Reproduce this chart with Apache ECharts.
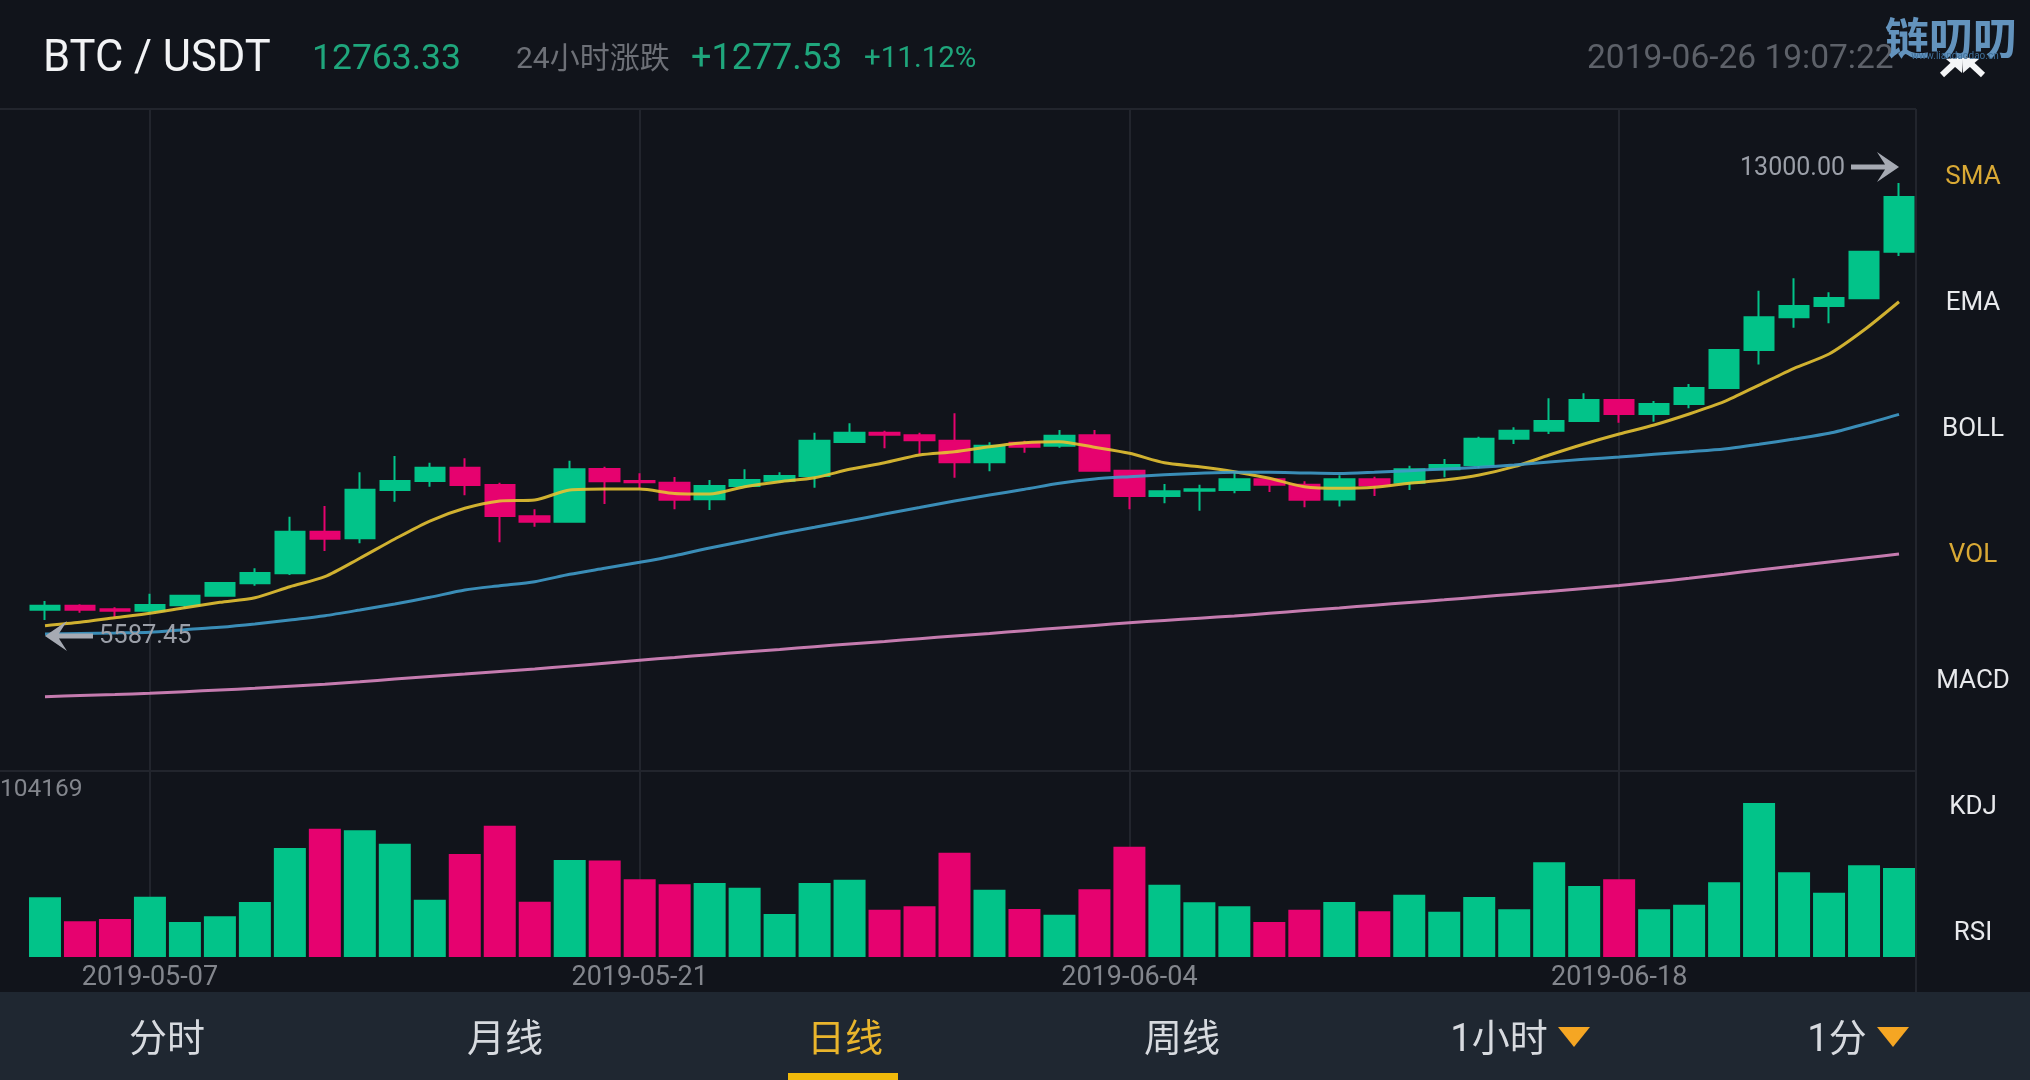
<!DOCTYPE html>
<html><head><meta charset="utf-8">
<style>html,body{margin:0;padding:0;background:#11141b}#c{width:2030px;height:1080px}</style>
<script src="https://cdn.jsdelivr.net/npm/echarts@6/dist/echarts.min.js"></script>
</head><body><div id="c"></div>
<script>
const dates = ['2019-05-04','2019-05-05','2019-05-06','2019-05-07','2019-05-08','2019-05-09','2019-05-10','2019-05-11','2019-05-12','2019-05-13','2019-05-14','2019-05-15','2019-05-16','2019-05-17','2019-05-18','2019-05-19','2019-05-20','2019-05-21','2019-05-22','2019-05-23','2019-05-24','2019-05-25','2019-05-26','2019-05-27','2019-05-28','2019-05-29','2019-05-30','2019-05-31','2019-06-01','2019-06-02','2019-06-03','2019-06-04','2019-06-05','2019-06-06','2019-06-07','2019-06-08','2019-06-09','2019-06-10','2019-06-11','2019-06-12','2019-06-13','2019-06-14','2019-06-15','2019-06-16','2019-06-17','2019-06-18','2019-06-19','2019-06-20','2019-06-21','2019-06-22','2019-06-23','2019-06-24','2019-06-25','2019-06-26'];
const tickDates = ['2019-05-07','2019-05-21','2019-06-04','2019-06-18'];
const opens = [5762,5830,5769,5745,5836,5999,6210,6379,7085,6973,7792,7945,8171,7877,7346,7255,8148,7945,7916,7635,7860,7950,8030,8607,8764,8720,8629,8262,8595,8544,8720,8120,7691,7780,7792,7974,7882,7631,7974,7916,8143,8216,8663,8798,8963,9319,9081,9251,9523,10167,10722,10914,11044,11835];
const closes = [5830,5762,5745,5842,5999,6215,6384,7085,6966,7797,7945,8171,7877,7351,7255,8143,7940,7923,7628,7860,7962,8030,8629,8764,8730,8635,8262,8544,8527,8713,8120,7691,7770,7804,7974,7882,7628,7974,7872,8143,8216,8663,8798,8963,9319,9081,9251,9523,10167,10722,10914,11049,11835,12763.33];
const lows = [5587.45,5711,5633,5701,5786,5982,6169,6350,6758,6888,7594,7848,7702,6905,7170,7255,7555,7821,7465,7453,7826,7916,7831,8595,8500,8403,8001,8110,8425,8510,8103,7465,7567,7441,7736,7758,7499,7512,7691,7792,8008,8160,8573,8742,8951,8934,8951,9178,9523,9923,10545,10620,11044,11762];
const highs = [5909,5853,5803,6033,6011,6227,6464,7339,7521,8093,8369,8255,8330,7916,7465,8289,8188,8076,8013,7962,8143,8093,8764,8924,8798,8764,9093,8601,8629,8810,8810,8132,7894,7882,8086,7984,7940,8042,8018,8205,8318,8696,8856,9348,9433,9331,9302,9590,10179,11173,11383,11146,11835,13000];
const volumes = [40360,24125,25703,40810,23674,27507,37202,73728,86805,85678,76657,38780,69669,88833,37427,65611,65300,52534,49152,50054,46897,29085,50000,52308,32014,34268,70570,45545,32467,28634,45770,74629,48927,36977,34268,23674,32014,37202,30888,42161,30663,40584,32240,64033,48024,52534,32240,35398,50505,104169,57268,43515,62004,60200];
const lineYellow = [5490,5548,5626,5701,5796,5887,5965,6152,6322,6634,6961,7266,7482,7606,7623,7792,7809,7809,7733,7724,7848,7933,8001,8143,8255,8386,8442,8527,8595,8612,8517,8415,8255,8188,8103,7991,7848,7821,7838,7906,7962,8047,8188,8386,8573,8742,8895,9081,9290,9573,9857,10099,10506,10986];
const lineBlue = [5350,5358,5367,5379,5423,5463,5519,5587,5660,5757,5859,5972,6096,6169,6237,6362,6464,6566,6678,6809,6927,7050,7160,7270,7385,7495,7606,7708,7804,7906,7979,8018,8052,8076,8093,8093,8081,8072,8093,8120,8149,8177,8215,8267,8313,8352,8398,8442,8488,8568,8657,8754,8907,9076];
const linePink = [4286,4305,4323,4344,4371,4400,4429,4463,4496,4539,4586,4629,4671,4714,4756,4805,4855,4905,4952,4999,5044,5088,5134,5180,5224,5270,5316,5360,5406,5451,5496,5541,5580,5618,5655,5701,5747,5792,5838,5884,5930,5977,6025,6072,6122,6172,6230,6295,6364,6435,6503,6571,6639,6707];
const indicators = ['SMA','EMA','BOLL','VOL','MACD','KDJ','RSI'];
const activeIndicators = ['SMA','VOL'];
const tabs = [['分时',167],['月线',505],['日线',845],['周线',1182]];

const GREEN='#02c389', PINK='#e6026f', GRID='#22252d', FONT='Roboto,"Noto Sans CJK SC",sans-serif';
const tx=(text,x,y,size,fill,align,extra)=>({type:'text',x,y,silent:true,style:Object.assign({text,fill,fontSize:size,fontFamily:FONT,align:align||'left',verticalAlign:'middle'},extra||{})});
const ln=(x1,y1,x2,y2,c,w)=>({type:'line',silent:true,shape:{x1,y1,x2,y2},style:{stroke:c||GRID,lineWidth:w||2}});
const poly=(pts,c)=>({type:'polygon',silent:true,shape:{points:pts},style:{fill:c}});

const graphic=[
  {type:'rect',silent:true,z:-1,shape:{x:0,y:992,width:2030,height:88},style:{fill:'#1f2731'}},
  ln(0,109,1916,109), ln(0,771,1916,771), ln(1916,109,1916,992),
  tx('BTC / USDT',43,60,43.5,'#f2f3f5'),
  tx('12763.33',312,60,35.5,'#1fa67c'),
  tx('24小时涨跌',516,60,30,'#6d7077'),
  tx('+1277.53',691,60,36,'#1fa67c'),
  tx('+11.12%',864,60,29.5,'#1fa67c'),
  tx('2019-06-26 19:07:22',1587,60,33.5,'#5d6169'),
  ln(1942,75,1958,60,'#f4f5f7',6), poly([[1946,59],[1963,57],[1962,73]],'#f4f5f7'),
  ln(1983,75,1967,60,'#f4f5f7',6), poly([[1979,59],[1962,57],[1963,73]],'#f4f5f7'),
  tx('链叨叨',1951,44,44,'#6393bd','center',{fontWeight:'bold'}),
  tx('www.liandaodao.cn',1955,56,10,'#3f6f99','center'),
  tx('104169',0,790,24.5,'#83868d'),
];
indicators.forEach((n,i)=>graphic.push(tx(n,1973,177+i*126,26,activeIndicators.includes(n)?'#d9a935':'#e8e9ec','center')));
tabs.forEach(t=>graphic.push(tx(t[0],t[1],1041,38,t[0]==='日线'?'#e9b52c':'#d7dadf','center')));
graphic.push(
  tx('1小时',1499,1041,38,'#d7dadf','center'), poly([[1558,1027],[1590,1027],[1574,1047]],'#f5a623'),
  tx('1分',1837,1041,38,'#d7dadf','center'), poly([[1877,1027],[1909,1027],[1893,1047]],'#f5a623'),
  {type:'rect',silent:true,shape:{x:788,y:1073,width:110,height:7},style:{fill:'#f0b90b'}}
);

const ARROW_R='path://M0 12.5 H34 L26 0 L48 15 L26 30 L34 17.5 H0 Z';
const ARROW_L='path://M48 12.5 H14 L22 0 L0 15 L22 30 L14 17.5 H48 Z';
const lineS=(name,data,color)=>({type:'line',name,data,xAxisIndex:0,yAxisIndex:0,smooth:0.25,symbol:'none',z:4,lineStyle:{color,width:3,opacity:.9},silent:true});
const xBase={type:'category',data:dates,boundaryGap:true,axisLine:{show:false},axisTick:{show:false},
  splitLine:{show:true,alignWithLabel:true,interval:(i,v)=>tickDates.includes(v),lineStyle:{color:GRID,width:2}}};

const chart=echarts.init(document.getElementById('c'),null,{renderer:'canvas'});
chart.setOption({
  backgroundColor:'#11141b',animation:false,
  graphic:{elements:graphic},
  grid:[{left:27.5,top:109,width:1889,height:662},{left:27.5,top:771,width:1889,height:186}],
  xAxis:[Object.assign({},xBase,{gridIndex:0,axisLabel:{show:false}}),
         Object.assign({},xBase,{gridIndex:1,axisLabel:{show:true,interval:(i,v)=>tickDates.includes(v),color:'#83868d',fontSize:27,fontFamily:FONT,margin:8}})],
  yAxis:[{type:'value',gridIndex:0,min:3026,max:14255,show:false,splitLine:{show:false}},
         {type:'value',gridIndex:1,min:0,max:125810,show:false,splitLine:{show:false}}],
  series:[
    {type:'candlestick',name:'K',xAxisIndex:0,yAxisIndex:0,barWidth:30,z:3,silent:true,
      data:dates.map((d,i)=>[opens[i],closes[i],lows[i],highs[i]]),
      itemStyle:{color:GREEN,color0:PINK,borderColor:GREEN,borderColor0:PINK,borderWidth:2},
      markPoint:{silent:true,animation:false,data:[
        {coord:[dates[53],13000],value:13000,symbol:ARROW_R,symbolSize:[48,30],symbolOffset:[-24,-16],itemStyle:{color:'#a6aab3'},
          label:{show:true,position:'left',distance:6,offset:[0,2],color:'#9b9fa8',fontSize:25,fontFamily:FONT,formatter:'13000.00'}},
        {coord:[dates[0],5587.45],value:5587.45,symbol:ARROW_L,symbolSize:[48,30],symbolOffset:[24,16],itemStyle:{color:'#a6aab3'},
          label:{show:true,position:'right',distance:6,offset:[0,1],color:'#9b9fa8',fontSize:25.5,fontFamily:FONT,formatter:'5587.45'}}
      ]}},
    lineS('yellow',lineYellow,'#e6c233'),
    lineS('blue',lineBlue,'#3f9ac9'),
    lineS('pink',linePink,'#d986c0'),
    {type:'bar',name:'VOL',xAxisIndex:1,yAxisIndex:1,barWidth:32,silent:true,
      data:volumes.map((v,i)=>({value:v,itemStyle:{color:closes[i]>=opens[i]?GREEN:PINK}}))}
  ]
});
</script></body></html>
